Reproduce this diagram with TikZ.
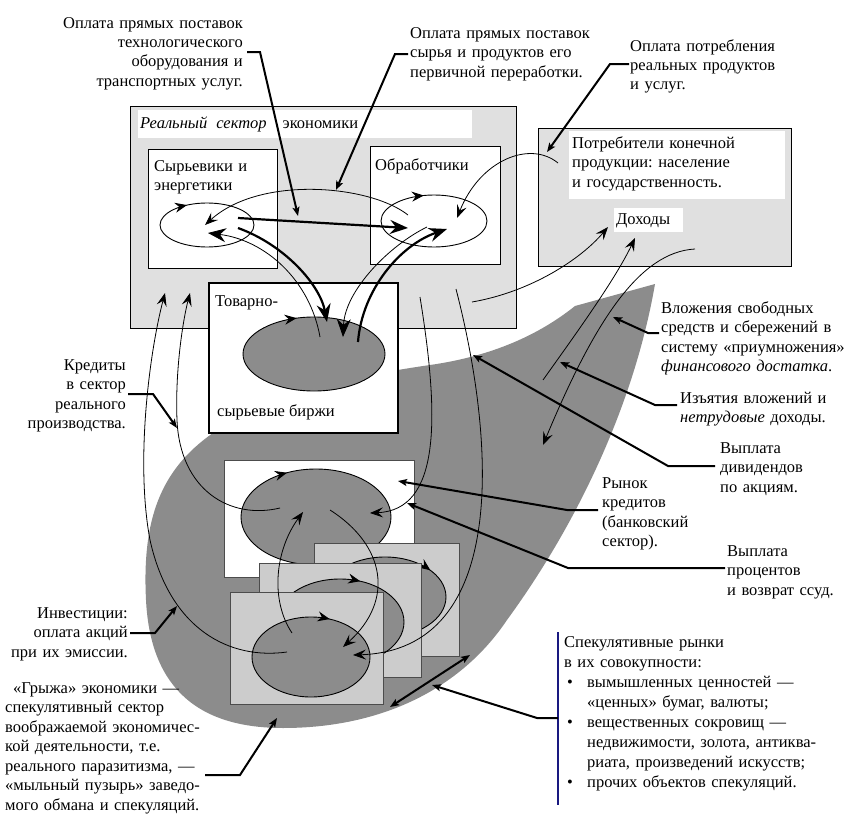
\documentclass[tikz,border=0pt]{standalone}
\usepackage{fontspec}
\setmainfont{Liberation Serif}
\frenchspacing
\usetikzlibrary{arrows.meta,decorations.markings}

\definecolor{lightgrey}{gray}{0.88}
\definecolor{darkgrey}{gray}{0.55}
\definecolor{midgrey}{gray}{0.8}
\definecolor{framegrey}{gray}{0.3}
\definecolor{navy}{rgb}{0.1,0.1,0.5}

\tikzstyle{greybox} = [draw=black, fill=lightgrey, line width=1.4pt, inner sep=0pt]
\tikzstyle{whitebox} = [draw=black, fill=white, line width=1pt, inner sep=0pt]
\tikzstyle{specbox} = [draw=framegrey, fill=midgrey, line width=1pt, inner sep=0pt]
\tikzstyle{blank} = [fill=white, inner sep=0pt]
\tikzstyle{oval} = [draw=black, line width=0.9pt]
\tikzstyle{txt} = [inner sep=0pt, font=\fontsize{16.5}{19.5}\selectfont]
\tikzstyle{flow} = [line width=0.8pt, -{Stealth[length=13pt,width=10pt,inset=5pt]}]
\tikzstyle{bighead} = [line width=0.8pt, -{Stealth[length=18pt,width=14pt,inset=6pt]}]
\tikzstyle{bigflow} = [line width=2.2pt, -{Stealth[length=18pt,width=14pt,inset=6pt]}]
\tikzstyle{leader} = [line width=2pt, -{Stealth[length=9pt,width=7pt,inset=2pt]}]
\tikzstyle{dbl} = [line width=2pt, {Stealth[length=9pt,width=7pt,inset=2pt]}-{Stealth[length=9pt,width=7pt,inset=2pt]}]
\tikzset{cyc/.style={postaction={decorate,decoration={markings,
  mark=at position #1 with {\arrow{Stealth[length=12pt,width=10pt,inset=4pt]}}}}}}

\begin{document}
\begin{tikzpicture}[x=1pt,y=-1pt]
\useasboundingbox (0,0) rectangle (847,835);

% speculative "hernia"
\fill[darkgrey] (575,306) -- (655,284) .. controls (635,400) and (580,520) .. (507,620)
  .. controls (460,690) and (380,728) .. (283,728)
  .. controls (190,728) and (150,680) .. (146,600)
  .. controls (142,520) and (160,470) .. (213,433)
  .. controls (260,395) and (360,375) .. (430,365)
  .. controls (500,355) and (545,330) .. (575,306) -- cycle;

% real sector
\node[greybox, anchor=north west, minimum width=386pt, minimum height=222pt] (real) at (130,106) {};
\node[blank, anchor=north west, minimum width=334pt, minimum height=28pt] (realstrip) at (138,110) {};
\node[txt, anchor=base west] (realtxt) at (140,128) {\textit{Реальный}\hspace{9pt}\textit{сектор}\hspace{16pt}экономики};
\node[whitebox, anchor=north west, minimum width=129pt, minimum height=119pt] (raw) at (148,149) {};
\node[txt, text width=120pt, align=left, anchor=base west] (rawtxt) at (154,171) {Сырьевики и\\энергетики};
\node[whitebox, anchor=north west, minimum width=130pt, minimum height=118pt] (proc) at (370,146) {};
\node[txt, anchor=base west] (proctxt) at (375,170) {Обработчики};
\draw[oval, cyc=0.66] (207,225) ellipse [x radius=47, y radius=22];
\draw[oval, cyc=0.71] (434,221) ellipse [x radius=53, y radius=26];

% consumers
\node[greybox, anchor=north west, minimum width=253pt, minimum height=138pt] (cons) at (538,128) {};
\node[blank, anchor=north west, minimum width=216pt, minimum height=68pt] (consstrip) at (569,131) {};
\node[txt, text width=210pt, align=left, anchor=base west] (constxt) at (572,148) {Потребители конечной\\продукции: население\\и государственность.};
\node[blank, anchor=north west, minimum width=69pt, minimum height=24pt] (incbox) at (614,208) {};
\node[txt, anchor=base west] (inctxt) at (616,224) {Доходы};

% commodity exchange
\node[whitebox, line width=1.5pt, anchor=north west, minimum width=189pt, minimum height=150pt] (exch) at (208,282) {};
\node[txt, anchor=base west] (exchtop) at (215,306) {Товарно-};
\node[txt, anchor=base west] (exchbot) at (217,416) {сырьевые биржи};
\draw[oval, fill=darkgrey, cyc=0.7] (314,354) ellipse [x radius=71, y radius=37];

% credit market
\node[whitebox, draw=framegrey, anchor=north west, minimum width=190pt, minimum height=117pt] (bank) at (224,460) {};
\draw[oval, fill=darkgrey, cyc=0.675] (316,517) ellipse [x radius=75, y radius=48];

% speculative markets
\node[specbox, anchor=north west, minimum width=145pt, minimum height=113pt] (specA) at (314,543) {};
\draw[oval, fill=darkgrey, cyc=0.9] (385,597) ellipse [x radius=61, y radius=40];
\node[specbox, anchor=north west, minimum width=162pt, minimum height=114pt] (specB) at (259,563) {};
\draw[oval, fill=darkgrey, cyc=0.81] (340,622) ellipse [x radius=64, y radius=43];
\node[specbox, anchor=north west, minimum width=153pt, minimum height=112pt] (specC) at (230,592) {};
\draw[oval, fill=darkgrey, cyc=0.81] (311,657) ellipse [x radius=59, y radius=40];

% money flows
\draw[flow] (408,215) .. controls (370,185) and (260,175) .. (205,225);
\draw[bigflow] (238,218) -- (408,228);
\draw[bigflow] (238,228) .. controls (285,245) and (320,285) .. (327,322);
\draw[bighead] (320,337) .. controls (310,280) and (265,240) .. (208,233);
\draw[bighead] (427,227) .. controls (390,245) and (345,290) .. (343,337);
\draw[bigflow] (358,342) .. controls (362,290) and (400,245) .. (447,229);
\draw[flow] (558,163) .. controls (530,140) and (480,160) .. (457,218);
\draw[flow] (472,302) .. controls (530,292) and (580,260) .. (608,227);
\draw[flow] (543,380) .. controls (575,335) and (615,280) .. (635,238);
\draw[flow] (695,249) .. controls (640,252) and (595,320) .. (543,445);
\draw[flow] (420,297) .. controls (440,420) and (440,510) .. (370,513);
\draw[flow] (456,289) .. controls (495,440) and (510,650) .. (353,655);
\draw[flow] (330,510) .. controls (385,545) and (395,600) .. (343,647);
\draw[flow] (292,633) .. controls (270,600) and (275,550) .. (303,512);
\draw[flow] (287,652) .. controls (230,660) and (170,630) .. (150,540)
  .. controls (135,460) and (150,350) .. (165,293);
\draw[flow] (280,508) .. controls (230,520) and (180,490) .. (177,420)
  .. controls (175,370) and (183,320) .. (190,293);

% captions
\node[txt, text width=250pt, align=right, anchor=base east] (payequip) at (243,28) {Оплата прямых поставок\\технологического\\оборудования и\\транспортных услуг.};
\node[txt, text width=250pt, align=left, anchor=base west] (payraw) at (410,38) {Оплата прямых поставок\\сырья и продуктов его\\первичной переработки.};
\node[txt, text width=200pt, align=left, anchor=base west] (payfinal) at (630,51) {Оплата потребления\\реальных продуктов\\и услуг.};
\node[txt, text width=130pt, align=right, anchor=base east] (credits) at (126,370) {Кредиты\\в сектор\\реального\\производства.};
\node[txt, text width=130pt, align=right, anchor=base east] (invest) at (128,618) {Инвестиции:\\оплата акций\\при их эмиссии.};
\node[txt, text width=260pt, align=left, anchor=base west] (hernia) at (5,693) {\hspace*{8pt}«Грыжа» экономики —\\спекулятивный сектор\\воображаемой экономичес-\\кой деятельности, т.е.\\реального паразитизма, —\\«мыльный пузырь» заведо-\\мого обмана и спекуляций.};
\node[txt, text width=190pt, align=left, anchor=base west] (savings) at (661,313) {Вложения свободных\\средств и сбережений в\\систему «приумножения»\\\textit{финансового достатка}.};
\node[txt, text width=170pt, align=left, anchor=base west] (withdraw) at (680,403) {Изъятия вложений и\\\textit{нетрудовые} доходы.};
\node[txt, text width=120pt, align=left, anchor=base west] (dividend) at (720,453) {Выплата\\дивидендов\\по акциям.};
\node[txt, text width=120pt, align=left, anchor=base west] (creditmkt) at (602,488) {Рынок\\кредитов\\(банковский\\сектор).};
\node[txt, text width=120pt, align=left, anchor=base west] (interest) at (727,556) {Выплата\\процентов\\и возврат ссуд.};
\node[txt, text width=270pt, align=left, anchor=base west, font=\fontsize{16.5}{20}\selectfont] (specmkts) at (564,647) {Спекулятивные рынки\\в их совокупности:\\
\hspace*{3pt}\makebox[20pt][l]{\textbullet}вымышленных ценностей —\\
\hspace*{23pt}«ценных» бумаг, валюты;\\
\hspace*{3pt}\makebox[20pt][l]{\textbullet}вещественных сокровищ —\\
\hspace*{23pt}недвижимости, золота, антиква-\\
\hspace*{23pt}риата, произведений искусств;\\
\hspace*{3pt}\makebox[20pt][l]{\textbullet}прочих объектов спекуляций.};
\draw[navy, line width=1.5pt] (558,632) -- (558,805);

% leaders
\draw[leader] (247,52) -- (260,52) -- (298,216);
\draw[leader] (408,54) -- (395,54) -- (336,190);
\draw[leader] (629,64) -- (610,64) -- (547,152);
\draw[leader] (128,394) -- (153,394) -- (177,428);
\draw[leader] (130,633) -- (155,633) -- (177,606);
\draw[leader] (205,775) -- (240,775) -- (277,718);
\draw[leader] (659,333) -- (648,333) -- (613,317);
\draw[leader] (677,405) -- (655,405) -- (560,362);
\draw[leader] (715,466) -- (668,466) -- (473,355);
\draw[leader] (598,510) -- (567,510) -- (398,481);
\draw[leader] (725,568) -- (568,568) -- (407,503);
\draw[leader] (558,718) -- (537,718) -- (432,685);
\draw[dbl] (390,707) -- (470,655);
\end{tikzpicture}
\end{document}
